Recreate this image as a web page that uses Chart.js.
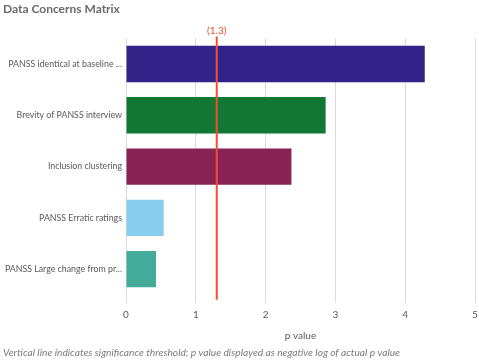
<!DOCTYPE html>
<html>
<head>
<meta charset="utf-8">
<script src="https://cdn.jsdelivr.net/npm/chart.js@4"></script>
<style>
  html, body { margin: 0; padding: 0; background: #fff; }
  #wrap { width: 479px; height: 362px; position: relative; }
</style>
</head>
<body>
<div id="wrap"><canvas id="chart"></canvas></div>
<script>
const categories = [
  'PANSS identical at baseline ...',
  'Brevity of PANSS interview',
  'Inclusion clustering',
  'PANSS Erratic ratings',
  'PANSS Large change from pr...'
];
const pValues = [4.28, 2.86, 2.37, 0.54, 0.43];
const barColors = ['#332288', '#117733', '#882255', '#88ccee', '#44aa99'];
const threshold = 1.3;
const xTicks = [0, 1, 2, 3, 4, 5];

const ctx = document.getElementById('chart').getContext('2d');
const fontFamily = 'Lato, "Open Sans", sans-serif';

// red vertical line for the significance threshold
const thresholdLine = {
  id: 'thresholdLine',
  afterDatasetsDraw(chart) {
    const { ctx, chartArea, scales } = chart;
    const x = scales.x.getPixelForValue(threshold);
    ctx.save();
    ctx.strokeStyle = '#f0502d';
    ctx.lineWidth = 2;
    ctx.beginPath();
    ctx.moveTo(x, chartArea.top - 2);
    ctx.lineTo(x, chartArea.bottom + 5);
    ctx.stroke();
    ctx.fillStyle = '#f0502d';
    ctx.font = '10px ' + fontFamily;
    ctx.textAlign = 'center';
    ctx.textBaseline = 'bottom';
    ctx.fillText('(' + threshold + ')', x, chartArea.top - 3);
    ctx.restore();
  }
};

const config = {
  type: 'bar',
  data: {
    labels: categories,
    datasets: [{
      label: 'p value',
      data: pValues,
      backgroundColor: barColors,
      borderWidth: 0,
      barPercentage: 0.71,
      categoryPercentage: 1
    }]
  },
  options: {
    indexAxis: 'y',
    responsive: false,
    animation: false,
    layout: { padding: { top: 0, right: 4, left: 3, bottom: 0 } },
    plugins: {
      legend: { display: false },
      tooltip: { enabled: false },
      title: {
        display: true,
        text: 'Data Concerns Matrix',
        align: 'start',
        color: '#6a6a6a',
        font: { family: fontFamily, size: 12, weight: 'bold' },
        padding: { top: 2, bottom: 22 }
      },
      subtitle: {
        display: true,
        position: 'bottom',
        text: 'Vertical line indicates significance threshold; p value displayed as negative log of actual p value',
        align: 'start',
        color: '#7a7a7a',
        font: { family: fontFamily, size: 10.2, style: 'italic' },
        padding: { top: 4, bottom: 3 }
      }
    },
    scales: {
      x: {
        min: 0,
        max: 5,
        afterBuildTicks(axis) {
          axis.ticks = xTicks.map(v => ({ value: v }));
        },
        afterFit(axis) { axis.paddingRight = 0; },
        grid: { color: '#d9d9d9', drawTicks: true, tickLength: 8 },
        border: { display: false },
        ticks: { color: '#595959', font: { family: fontFamily, size: 10 }, padding: 6 },
        title: {
          display: true,
          text: 'p value',
          color: '#595959',
          font: { family: fontFamily, size: 10 },
          padding: { top: 3, bottom: 1 }
        }
      },
      y: {
        grid: { display: false, drawTicks: false },
        border: { display: false },
        afterFit(axis) { axis.width = 123; },
        ticks: { color: '#595959', font: { family: fontFamily, size: 8.8 }, padding: 4 }
      }
    }
  },
  plugins: [thresholdLine]
};

const canvas = document.getElementById('chart');
canvas.width = 479;
canvas.height = 362;
const myChart = new Chart(ctx, config);
</script>
</body>
</html>
